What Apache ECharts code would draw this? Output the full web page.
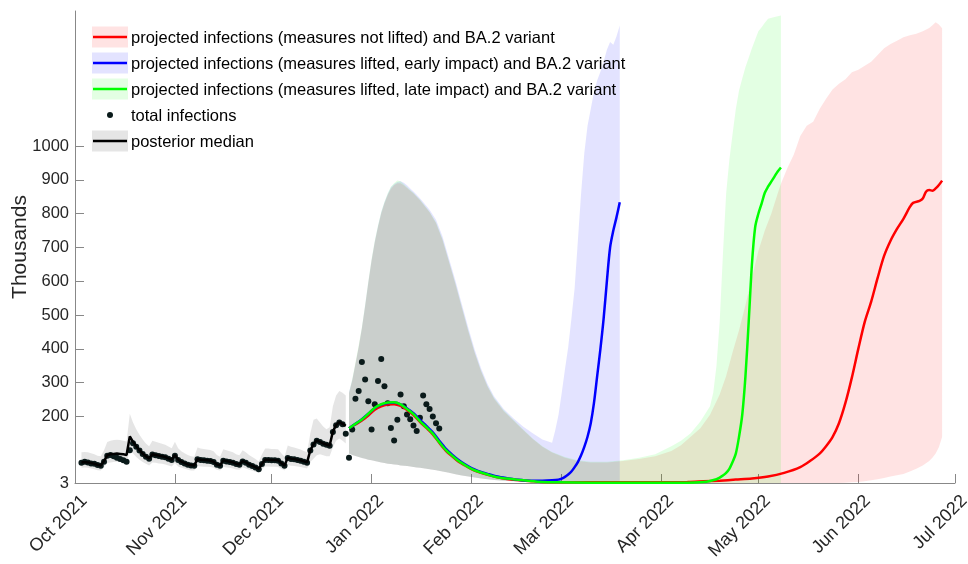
<!DOCTYPE html>
<html><head><meta charset="utf-8">
<script src="https://cdn.jsdelivr.net/npm/echarts@6/dist/echarts.min.js"></script>
<style>html,body{margin:0;padding:0;background:#fff}#c{width:968px;height:564px}</style>
</head><body><div id="c"></div>
<script>
// ---------- axis ticks ----------
const MONTH_TICKS = ['2021-10-01','2021-11-01','2021-12-01','2022-01-01','2022-02-01','2022-03-01','2022-04-01','2022-05-01','2022-06-01','2022-07-01'];
const MONTH_NAMES = ['Jan','Feb','Mar','Apr','May','Jun','Jul','Aug','Sep','Oct','Nov','Dec'];
const Y_TICKS = [3,200,300,400,500,600,700,800,900,1000];
const Y_NAME = 'Thousands';
// day offsets are counted from 2021-10-01
const DAY0 = [2021, 9, 1];

// ---------- posterior (Oct 3 .. Dec 24) ----------
const POST_START = 2;
const postMedian = [64,65,64,62,60,57,55,68,85,88,
  89,90,89,88,86,141,125,112,100,90,
  82,76,88,86,84,82,80,76,72,86,
  72,66,62,58,56,55,74,72,71,70,
  69,66,58,55,70,68,66,64,60,58,
  68,64,58,54,50,45,60,72,72,71,
  71,70,62,55,78,75,74,72,70,67,
  64,100,118,129,125,120,117,114,155,175,
  183,178,172];
const postUpper = [94,95,94,91,88,84,82,100,124,128,
  130,131,130,128,126,208,182,162,146,132,
  120,112,128,125,122,119,116,111,106,125,
  106,97,91,86,82,81,108,105,104,102,
  101,97,86,81,103,100,97,94,88,85,
  100,94,86,80,74,67,88,105,105,104,
  104,103,91,81,114,110,108,105,102,98,
  94,150,190,194,182,170,162,168,230,262,
  275,270,262];
const postLower = [48,49,48,46,44,41,40,50,62,64,
  65,66,65,64,62,100,90,80,72,65,
  60,55,64,63,61,60,58,55,52,62,
  52,48,45,42,40,40,53,52,51,51,
  50,48,42,40,51,49,48,46,43,42,
  49,46,42,39,36,33,43,52,52,51,
  51,50,45,40,56,54,53,52,50,48,
  46,65,75,85,88,85,82,82,108,128,
  135,128,120];

// ---------- total infections (Oct 3 .. Jan 22) ----------
const OBS_START = 2;
const observed = [63,66,64,61,60,56,54,66,84,86,
  82,78,74,70,66,100,121,110,99,89,
  81,75,87,85,83,81,79,75,71,84,
  71,65,61,57,55,54,73,71,70,69,
  68,65,57,54,69,67,65,63,59,57,
  67,63,57,53,49,44,59,71,71,70,
  70,69,61,54,77,74,73,71,69,66,
  63,99,117,128,124,119,116,113,154,174,
  182,177,149,78,
  161,252,275,361,309,245,161,236,305,370,
  289,239,166,129,190,265,230,206,192,173,
  157,196,262,236,222,200,180,164];

// ---------- projected medians ----------
const greenMedDays = [85,87,89,91,93,95,97,99,101,103,105,107,109,111,113,115,117,119,121,123,125,
  128,131,134,137,141,145,150,160,175,190,195,197,199,
  200,201,202,203,204,205,206,207,208,209,210,211,212,213,214,215,216,217,218,219];
const greenMed = [165,178,191,208,226,236,241,242,236,222,207,186,168,149,124,101,84,68,56,45,37,
  28,20,16,13,9,6,5,4,4,4,6,9,14,
  19,25,33,45,65,90,140,205,320,480,650,760,800,830,862,880,895,910,925,937];

const redMedDays = [85,87,89,91,93,95,97,99,101,103,105,107,109,111,113,115,117,119,121,123,125,
  128,131,134,137,141,145,150,
  160,170,180,190,195,200,205,210,215,220,225,228,231,233,235,237,239,241,243,245,247,249,251,253,255,257,259,260,262,263,264,265,266,267,268,269];
const redMed = [165,176,188,203,220,230,235,236,231,219,204,184,166,147,122,99,82,66,55,44,36,
  27,20,15,12,9,6,5,
  5,5,5,6,8,10,13,16,22,33,50,68,90,112,139,180,240,315,400,480,540,610,675,720,755,785,820,832,838,845,865,870,868,875,885,898];

const blueMedDays = [85,87,89,91,93,95,97,99,101,103,105,107,109,111,113,115,117,119,121,123,125,
  128,131,134,137,141,145,148,
  150,151,152,153,154,155,156,157,158,159,160,161,162,163,164,165,166,167,168,169];
const blueMed = [165,178,192,208,225,235,240,241,236,224,210,190,172,153,128,105,87,71,58,47,39,
  30,22,17,13,10,10,11,
  13,16,21,28,37,50,65,85,110,140,180,240,320,400,490,600,700,750,790,834];

// ---------- projected bands ----------
const EARLY_BAND_DAYS = [85,86,87,88,89,90,91,92,93,94,95,96,97,98,99,100,101,102,103,104,105,106,107,108,
  110,112,114,116,118,120,122,124,126,128,130,133,136,139,142,145,148];
const earlyLower = [90,86,83,80,77,75,72,70,68,66,64,62,60,59,58,57,55,54,53,52,50,49,48,47,
  44,41,37,33,29,25,22,19,16,14,12,10,8,7,6,5,4];

const greenLateDays = [152,156,160,165,170,175,180,185,188,191,194,197,
  198,199,200,201,202,203,204,205,206,207,208,209,210,211,212,213,214,215,217,219];
const greenUpperEarly = [270,310,360,410,465,530,600,665,720,765,805,835,860,880,890,898,896,888,879,870,862,852,842,830,
  806,775,725,660,595,525,455,390,335,290,255,218,190,162,135,112,95];
const greenUpperLate = [80,70,66,66,70,78,88,112,128,150,185,230,
  270,350,480,680,860,960,1037,1110,1165,1200,1234,1262,1290,1315,1340,1352,1365,1377,1382,1387];
const greenLowerLate = [3,3,3,3,3,3,3,3,3,3,3,3,
  3,3,3,3,3,3,3,3,3,3,3,3,3,3,3,3,3,3,3,3];

const redLateDays = [152,156,160,165,170,175,180,185,188,191,194,197,
  200,202,204,206,208,210,212,214,216,218,219,
  221,223,225,227,229,231,233,235,237,239,241,243,245,247,249,251,253,255,257,259,261,263,265,
  266,267,268,269];
const redUpperEarly = [268,305,355,405,460,525,595,660,715,760,800,830,855,873,884,890,890,884,876,868,860,850,840,828,
  804,772,722,658,592,522,452,388,333,288,252,215,188,160,133,110,93];
const redUpperLate = [78,68,64,64,68,74,82,98,115,140,165,205,
  265,320,390,455,530,610,690,750,800,860,889,
  935,975,1030,1060,1072,1110,1140,1168,1185,1198,1219,1226,1238,1250,1270,1290,1302,1312,1322,1328,1333,1340,1350,
  1358,1367,1360,1349];
const redLowerLate = [3,3,3,3,3,3,3,3,3,3,3,3,
  3,3,3,3,3,3,3,3,3,3,3,
  3,3,3,3,3,3,3,3,3,4,5,6,8,11,14,18,22,26,30,37,45,55,68,
  78,90,109,139];

const blueLateDays = [149,150,151,152,153,154,155,156,157,158,159,160,161,162,163,164,165,166,167,168,169];
const blueUpperEarly = [272,308,355,405,462,528,598,662,718,764,804,834,858,878,888,894,896,892,884,875,866,856,846,835,
  812,782,733,668,603,533,463,398,342,296,260,222,195,170,150,132,122];
const blueUpperLate = [160,205,270,340,405,490,580,720,860,980,1060,1110,1160,1195,1220,1250,1285,1308,1300,1325,1357];
const blueLowerLate = [3,3,3,3,3,3,3,3,3,3,3,3,3,3,3,3,3,3,3,3,3];

const LEGEND_LABELS = [
  'projected infections (measures not lifted) and BA.2 variant',
  'projected infections (measures lifted, early impact) and BA.2 variant',
  'projected infections (measures lifted, late impact) and BA.2 variant',
  'total infections',
  'posterior median'
];

// ---------- helpers ----------
function dayTs(d){ return new Date(DAY0[0], DAY0[1], DAY0[2] + d).getTime(); }
function dateTs(s){ const p = s.split('-').map(Number); return new Date(p[0], p[1]-1, p[2]).getTime(); }
function pairs(days, vals){ const n = Math.min(days.length, vals.length); const out=[]; for(let i=0;i<n;i++) out.push([dayTs(days[i]), vals[i]]); return out; }
function seq(start, vals){ return vals.map((v,i)=>[dayTs(start+i), v]); }

const FONT = '"Liberation Sans", Arial, Helvetica, sans-serif';
const RED='#ff0000', BLUE='#0000ff', GREEN='#00ff00';
const RED_F='rgba(255,0,0,0.11)', BLUE_F='rgba(0,0,255,0.11)', GREEN_F='rgba(0,255,0,0.11)', GRAY_F='rgba(0,0,0,0.1)';
const DOT='#0a1a1a';

// band drawn as one polygon through the axis scales (api.coord)
function band(days, lower, upper, fill){
  const n = Math.min(days.length, lower.length, upper.length);
  const rows = [];
  for (let i=0;i<n;i++) rows.push([dayTs(days[i]), lower[i], upper[i]]);
  return {
    type:'custom', data:rows, encode:{x:0, y:[1,2]}, silent:true, z:1, clip:true,
    renderItem:(params, api)=>{
      if (params.dataIndex !== 0) return null;
      const pts = [];
      for (let i=0;i<rows.length;i++) pts.push(api.coord([rows[i][0], rows[i][2]]));
      for (let i=rows.length-1;i>=0;i--) pts.push(api.coord([rows[i][0], rows[i][1]]));
      return {type:'polygon', shape:{points:pts}, style:{fill:fill, stroke:null}};
    }
  };
}
const postDays = postMedian.map((_,i)=>POST_START+i);

const series = [
  band(postDays, postLower, postUpper, GRAY_F),
  band(EARLY_BAND_DAYS.concat(redLateDays), earlyLower.concat(redLowerLate), redUpperEarly.concat(redUpperLate), RED_F),
  band(EARLY_BAND_DAYS.concat(blueLateDays), earlyLower.concat(blueLowerLate), blueUpperEarly.concat(blueUpperLate), BLUE_F),
  band(EARLY_BAND_DAYS.concat(greenLateDays), earlyLower.concat(greenLowerLate), greenUpperEarly.concat(greenUpperLate), GREEN_F),
  {type:'scatter', name:LEGEND_LABELS[3], data:seq(OBS_START, observed), symbol:'circle', symbolSize:6, itemStyle:{color:DOT, opacity:1}, z:3, silent:true},
  {type:'line', name:LEGEND_LABELS[4], data:seq(POST_START, postMedian), showSymbol:false, symbol:'none', lineStyle:{color:'#000', width:2.5}, z:4, silent:true},
  {type:'line', name:LEGEND_LABELS[0], data:pairs(redMedDays, redMed), showSymbol:false, symbol:'none', smooth:0.3, lineStyle:{color:RED, width:2.5}, z:4, silent:true},
  {type:'line', name:LEGEND_LABELS[1], data:pairs(blueMedDays, blueMed), showSymbol:false, symbol:'none', smooth:0.3, lineStyle:{color:BLUE, width:2.5}, z:4, silent:true},
  {type:'line', name:LEGEND_LABELS[2], data:pairs(greenMedDays, greenMed), showSymbol:false, symbol:'none', smooth:0.3, lineStyle:{color:GREEN, width:2.5}, z:4, silent:true}
];

// ---------- legend (graphic) ----------
const legendStyle = [
  {fill:RED_F, line:RED}, {fill:BLUE_F, line:BLUE}, {fill:GREEN_F, line:GREEN},
  {dot:DOT}, {fill:'rgba(0,0,0,0.1)', line:'#000'}
];
const graphic = [];
LEGEND_LABELS.forEach((lab, i) => {
  const cy = 37 + 26*i;
  const st = legendStyle[i];
  if (st.fill) {
    graphic.push({type:'rect', shape:{x:92, y:cy-10.5, width:36, height:21}, style:{fill:st.fill}, z:100, silent:true});
    graphic.push({type:'line', shape:{x1:93, y1:cy, x2:127, y2:cy}, style:{stroke:st.line, lineWidth:2.5}, z:101, silent:true});
  } else {
    graphic.push({type:'circle', shape:{cx:110, cy:cy, r:3}, style:{fill:st.dot}, z:101, silent:true});
  }
  graphic.push({type:'text', x:131, y:cy+1, style:{text:lab, font:'16.5px ' + FONT, fill:'#000', verticalAlign:'middle', align:'left'}, z:101, silent:true});
});

const chart = echarts.init(document.getElementById('c'), null, {renderer:'canvas'});
chart.setOption({
  animation:false,
  backgroundColor:'#fff',
  grid:{left:75, right:13, top:11, bottom:81, containLabel:false, outerBoundsMode:'none'},
  xAxis:{
    type:'value', min:dateTs(MONTH_TICKS[0]), max:dateTs(MONTH_TICKS[MONTH_TICKS.length-1]),
    axisLine:{show:true, lineStyle:{color:'#888', width:1}},
    axisTick:{show:true, inside:true, length:9, lineStyle:{color:'#888'}, customValues:MONTH_TICKS.map(dateTs)},
    axisLabel:{show:true, rotate:45, margin:6, fontSize:18, fontFamily:FONT, color:'#262626',
      verticalAlign:'top', padding:[4,0,0,0],
      customValues:MONTH_TICKS.map(dateTs),
      formatter:(v)=>{ const d=new Date(v); return MONTH_NAMES[d.getMonth()] + ' ' + d.getFullYear(); }},
    splitLine:{show:false}, minorTick:{show:false}
  },
  yAxis:{
    type:'value', min:3, max:1400,
    name:Y_NAME, nameLocation:'middle', nameGap:44, nameRotate:90, nameMoveOverlap:false,
    nameTextStyle:{fontSize:21, fontFamily:FONT, color:'#262626'},
    axisLine:{show:true, lineStyle:{color:'#888', width:1}},
    axisTick:{show:true, inside:true, length:9, lineStyle:{color:'#888'}, customValues:Y_TICKS},
    axisLabel:{show:true, margin:6, fontSize:16.5, fontFamily:FONT, color:'#262626', customValues:Y_TICKS,
      formatter:(v)=>String(v)},
    splitLine:{show:false}
  },
  graphic:graphic,
  series:series
});
</script></body></html>
